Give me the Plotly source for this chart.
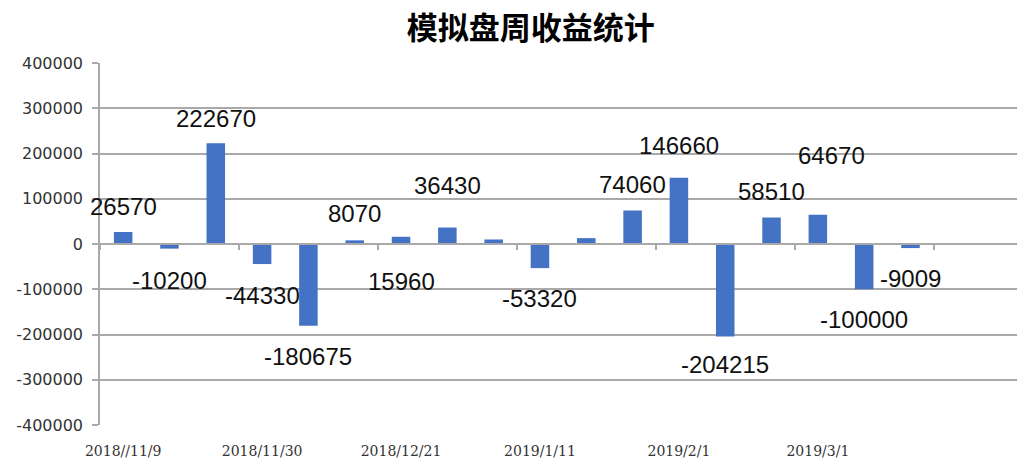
import plotly.graph_objects as go

# ---- data ----
categories = ["2018//11/9", "2018/11/16", "2018/11/23", "2018/11/30", "2018/12/7",
              "2018/12/14", "2018/12/21", "2018/12/28", "2019/1/4", "2019/1/11",
              "2019/1/18", "2019/1/25", "2019/2/1", "2019/2/15", "2019/2/22",
              "2019/3/1", "2019/3/8", "2019/3/15"]
weekly_pnl = [26570, -10200, 222670, -44330, -180675, 8070, 15960, 36430, 10000,
              -53320, 13000, 74060, 146660, -204215, 58510, 64670, -100000, -9009]
show_label = [True, True, True, True, True, True, True, True, False,
              True, False, True, True, True, True, True, True, True]
x_tick_labels = categories[0::3]
y_tick_vals = [-400000, -300000, -200000, -100000, 0, 100000, 200000, 300000, 400000]
y_tick_text = [str(v) for v in y_tick_vals]
title_text = "模拟盘周收益统计"

# ---- layout-only label offsets (pixels, relative to bar end) ----
label_dy = [25, -32, 25, -31, -31, 27, -45, 42, 0, -30, 0, 26, 32, -28, 26, 59, -30, -30]
label_dx = [0, 0, 0, 0, 0, 0, 0, 0, 0, 0, 0, 0, 0, 0, 0, 14, 0, 0]

BLUE = "#4472C4"
GRID = "#a9a9a9"
YMIN, YMAX = -400000, 400000

fig = go.Figure()
fig.add_trace(go.Bar(x=categories, y=weekly_pnl, marker=dict(color=BLUE, line=dict(width=0)),
                     xaxis="x", yaxis="y", hoverinfo="x+y"))
# invisible trace to carry the zero-line category axis
fig.add_trace(go.Scatter(x=categories, y=[0] * len(categories), mode="none",
                         xaxis="x2", yaxis="y", hoverinfo="skip", showlegend=False))

annotations = []
for c, v, s, dy, dx in zip(categories, weekly_pnl, show_label, label_dy, label_dx):
    if not s:
        continue
    annotations.append(dict(x=c, y=v, xref="x", yref="y", text=str(v), showarrow=False,
                            xanchor="center", yanchor="middle", yshift=dy, xshift=dx,
                            font=dict(family="Liberation Sans", size=24, color="#111111")))

xrange = [-0.5, 19.3]
zero_pos = (0 - YMIN) / (YMAX - YMIN)

fig.update_layout(
    width=1017, height=459,
    margin=dict(l=100, r=0, t=63, b=34),
    paper_bgcolor="white", plot_bgcolor="white",
    showlegend=False,
    bargap=0.6,
    title=dict(text=title_text, x=0.522, xref="container", xanchor="center",
               y=1 - 28 / 459, yref="container", yanchor="middle",
               font=dict(family="Noto Sans CJK SC", size=31, color="#000000", weight="bold")),
    xaxis=dict(type="category", categoryorder="array", categoryarray=categories,
               range=xrange, showgrid=False, zeroline=False, showline=False,
               tickmode="array", tickvals=x_tick_labels, ticktext=x_tick_labels,
               ticks="", ticklabelstandoff=16,
               tickfont=dict(family="DejaVu Serif", size=14, color="#333333")),
    xaxis2=dict(type="category", categoryorder="array", categoryarray=categories,
                overlaying="x", anchor="free", position=zero_pos, matches="x",
                showgrid=False, zeroline=False, showline=True, linecolor=GRID, linewidth=1.5,
                tickmode="linear", tick0=0, dtick=3, tickson="boundaries",
                ticks="outside", ticklen=5, tickcolor=GRID, tickwidth=1.5,
                showticklabels=False),
    yaxis=dict(range=[YMIN, YMAX], tickmode="array", tickvals=y_tick_vals, ticktext=y_tick_text,
               showgrid=True, gridcolor=GRID, gridwidth=1.5,
               zeroline=True, zerolinecolor=GRID, zerolinewidth=1.5,
               showline=True, linecolor=GRID, linewidth=1.5,
               ticks="outside", ticklen=6, tickcolor=GRID, tickwidth=1.5,
               ticklabelstandoff=6,
               tickfont=dict(family="DejaVu Sans", size=16, color="#333333")),
    annotations=annotations,
)

fig.write_html("out.html")
